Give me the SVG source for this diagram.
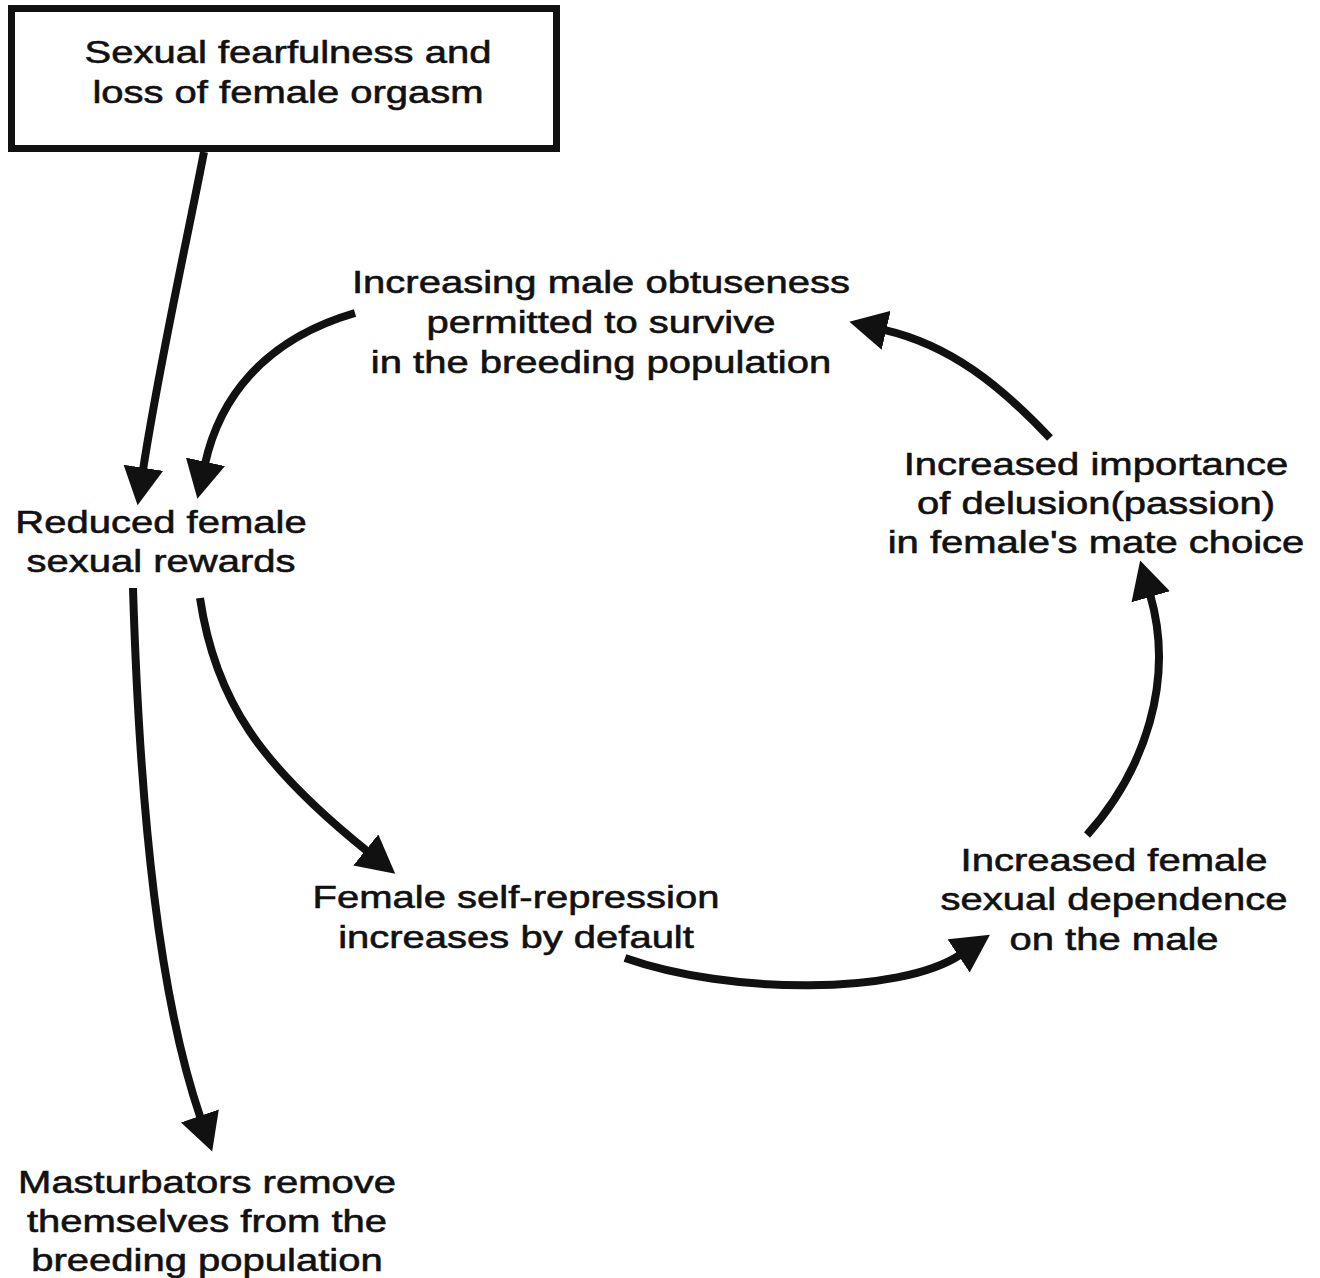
<svg xmlns="http://www.w3.org/2000/svg" width="1320" height="1278" viewBox="0 0 1320 1278">
<style>
  text { font-family: "Liberation Sans", Arial, sans-serif; font-size: 32px; fill: #111; stroke: #111; stroke-width: 0.6; text-anchor: middle; }
  .conn { fill: none; stroke: #111; stroke-width: 8; marker-end: url(#ah); }
  .box { fill: #fff; stroke: #111; stroke-width: 7; }
</style>
<defs>
  <marker id="ah" markerUnits="userSpaceOnUse" markerWidth="40" markerHeight="40" viewBox="0 0 36 36" refX="2" refY="18" orient="auto">
    <path d="M0,0 L34,18 L0,36 z" fill="#111"/>
  </marker>
</defs>
<rect width="1320" height="1278" fill="#fff"/>
<g id="connectors">
  <path class="conn" d="M204,152 C185,250 160,360 143,470"/>
  <path class="conn" d="M355,313 C262,340 219,400 205,464"/>
  <path class="conn" d="M133,588 C140,820 160,1000 200.6,1118"/>
  <path class="conn" d="M200,598 C215,700 260,765 367.5,851.4"/>
  <path class="conn" d="M625,958 C730,995 900,995 960.4,954.6"/>
  <path class="conn" d="M1087,835 C1145,770 1175,680 1150.1,594.6"/>
  <path class="conn" d="M1050,438 C1000,385 950,345 884,329.8"/>
</g>
<g id="n-fear">
  <rect class="box" x="11.5" y="8.5" width="545" height="140"/>
  <g transform="translate(288,0) scale(1.25,1)">
    <text x="0" y="63">Sexual fearfulness and</text>
    <text x="0" y="103">loss of female orgasm</text>
  </g>
</g>
<g id="n-obtuse" transform="translate(601,0) scale(1.25,1)">
  <text x="0" y="293">Increasing male obtuseness</text>
  <text x="0" y="333">permitted to survive</text>
  <text x="0" y="373">in the breeding population</text>
</g>
<g id="n-reduced" transform="translate(161,0) scale(1.25,1)">
  <text x="0" y="533">Reduced female</text>
  <text x="0" y="572">sexual rewards</text>
</g>
<g id="n-delusion" transform="translate(1096,0) scale(1.25,1)">
  <text x="0" y="475">Increased importance</text>
  <text x="0" y="514">of delusion(passion)</text>
  <text x="0" y="553">in female's mate choice</text>
</g>
<g id="n-selfrep" transform="translate(516,0) scale(1.25,1)">
  <text x="0" y="908">Female self-repression</text>
  <text x="0" y="948">increases by default</text>
</g>
<g id="n-dependence" transform="translate(1114,0) scale(1.25,1)">
  <text x="0" y="871">Increased female</text>
  <text x="0" y="910">sexual dependence</text>
  <text x="0" y="950">on the male</text>
</g>
<g id="n-masturb" transform="translate(207,0) scale(1.25,1)">
  <text x="0" y="1193">Masturbators remove</text>
  <text x="0" y="1232">themselves from the</text>
  <text x="0" y="1271">breeding population</text>
</g>
</svg>
